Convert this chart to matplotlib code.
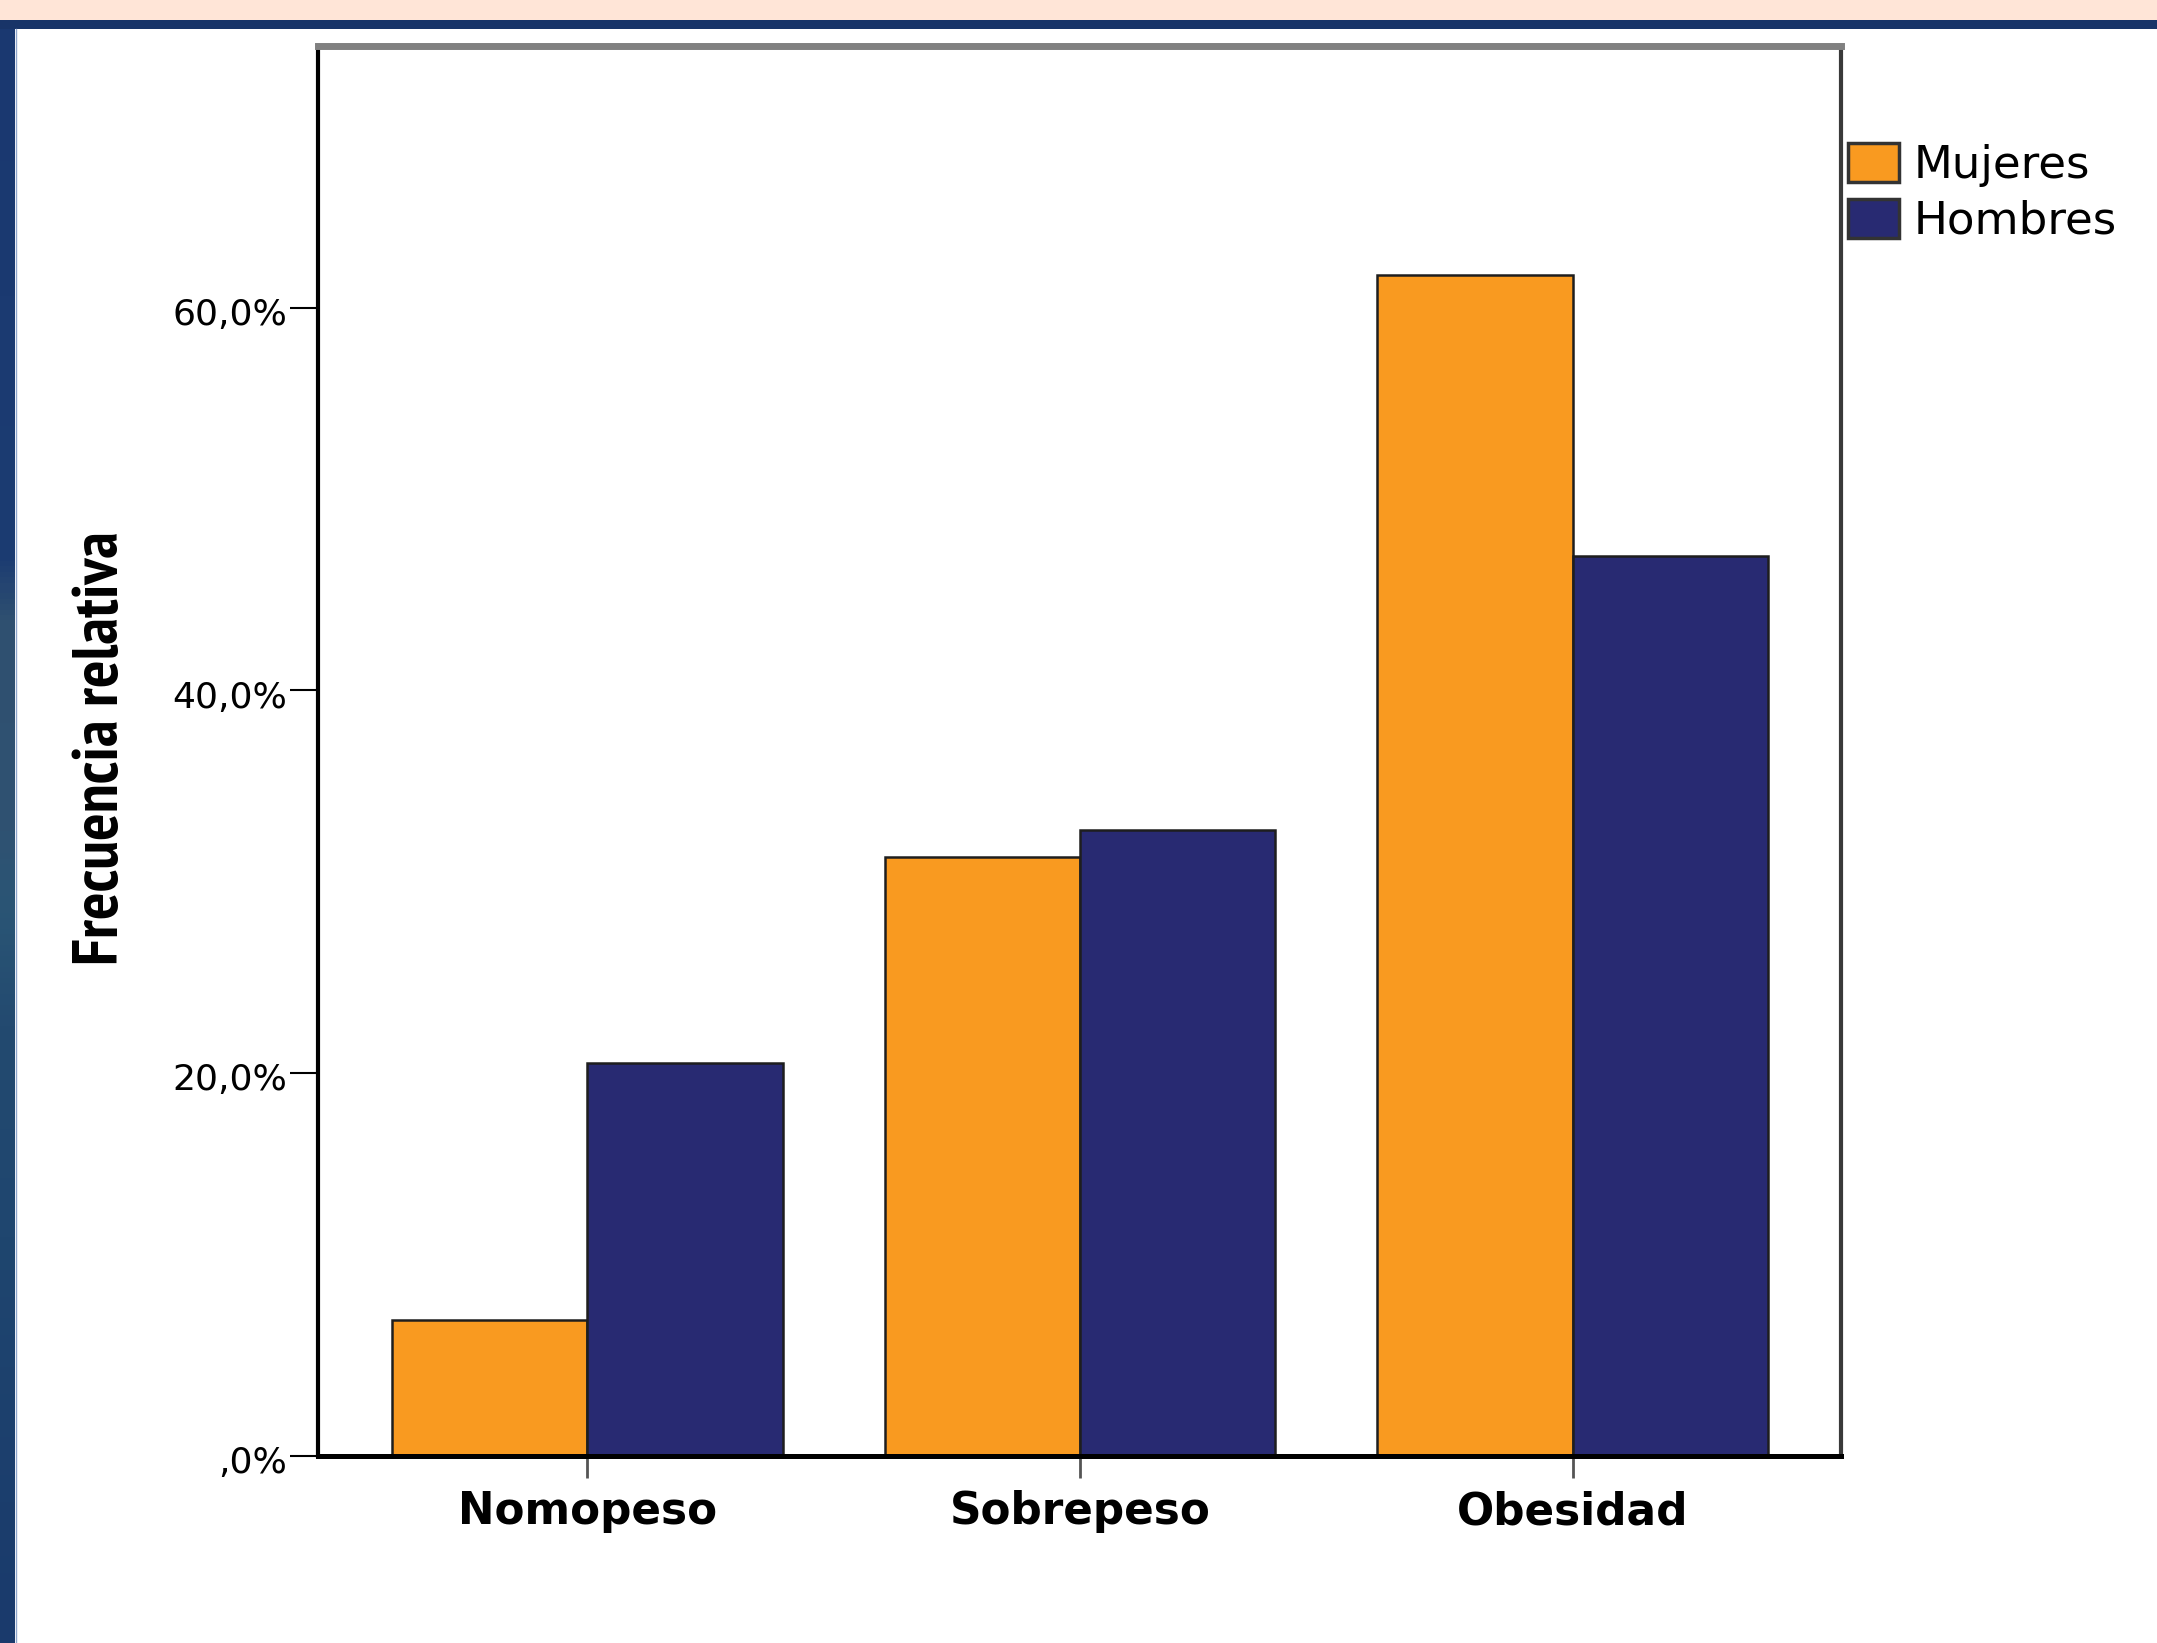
import matplotlib
matplotlib.use("Agg")
import matplotlib.pyplot as plt
import numpy as np
from matplotlib import font_manager
from matplotlib.colors import LinearSegmentedColormap
from matplotlib.patches import Rectangle
from matplotlib.ticker import FixedLocator, FuncFormatter
from matplotlib.transforms import ScaledTranslation

# datos
categorias = ["Nomopeso", "Sobrepeso", "Obesidad"]
mujeres = [7.1, 31.3, 61.7]
hombres = [20.5, 32.7, 47.0]
series = ["Mujeres", "Hombres"]
yticks = [0, 20, 40, 60]

W, H = 2157, 1643
fig = plt.figure(figsize=(W / 100, H / 100), dpi=100)
fig.patch.set_facecolor("white")

# franjas del marco de la diapositiva
fig.patches.append(Rectangle((0, 1 - 20 / H), 1, 20 / H, transform=fig.transFigure,
                             facecolor="#ffe5d7", edgecolor="none", zorder=0))
fig.patches.append(Rectangle((0, 1 - 29 / H), 1, 9 / H, transform=fig.transFigure,
                             facecolor="#183468", edgecolor="none", zorder=0))

side = fig.add_axes([0, 0, 15 / W, 1 - 20 / H])
cmap = LinearSegmentedColormap.from_list("lado", [
    (0.0, "#1a3870"), (0.33, "#1c3c72"), (0.37, "#2f5070"), (0.5, "#2f5272"),
    (0.55, "#2a5575"), (0.62, "#234a70"), (0.75, "#1f466f"), (1.0, "#1a3a6c")])
side.imshow(np.linspace(0, 1, 300).reshape(-1, 1), aspect="auto", cmap=cmap)
side.axis("off")
fig.add_artist(plt.Line2D([15.5 / W, 15.5 / W], [0, 1 - 29 / H], transform=fig.transFigure,
                          color="#8fa6cc", lw=1))

ax = fig.add_axes([318 / W, 1 - 1455.5 / H, (1841 - 318) / W, (1455.5 - 45.5) / H])

x = np.arange(len(categorias))
width = 0.3966
b1 = ax.bar(x - width / 2, mujeres, width, color="#f99a20", edgecolor="#1e1e1e",
            linewidth=1.8, label=series[0], zorder=3)
b2 = ax.bar(x + width / 2, hombres, width, color="#282a72", edgecolor="#1e1e1e",
            linewidth=1.8, label=series[1], zorder=3)

ax.set_xlim(-0.547, 2.545)
ax.set_ylim(0, 73.7)

ax.yaxis.set_major_locator(FixedLocator(yticks))
ax.yaxis.set_major_formatter(FuncFormatter(
    lambda v, p: ",0%" if v == 0 else f"{v:.1f}%".replace(".", ",")))
ax.tick_params(axis="y", direction="out", length=20, width=1.5, color="black",
               labelsize=26, pad=2)
# las etiquetas quedan un poco por debajo de su marca
bajada = ScaledTranslation(0, -4 / 100, fig.dpi_scale_trans)
for t in ax.get_yticklabels():
    t.set_verticalalignment("center_baseline")
    t.set_transform(t.get_transform() + bajada)

ax.set_xticks(x)
ax.set_xticklabels(categorias, fontsize=31.5, fontweight="bold")
ax.tick_params(axis="x", direction="out", length=16, width=2, color="#555555", pad=9)

ax.spines["top"].set_color("#808080")
ax.spines["top"].set_linewidth(5)
ax.spines["right"].set_color("#3a3a3a")
ax.spines["right"].set_linewidth(3)
ax.spines["left"].set_color("black")
ax.spines["left"].set_linewidth(3)
ax.spines["bottom"].set_color("black")
ax.spines["bottom"].set_linewidth(3.6)
for s in ax.spines.values():
    s.set_zorder(4)

# rótulo del eje y en letra estrecha si hay alguna instalada
narrow = None
for f in font_manager.fontManager.ttflist:
    nombre = (f.name + " " + f.fname).lower()
    if ("narrow" in nombre or "condensed" in nombre) and f.weight in ("bold", 700):
        narrow = f.fname
        if "narrow" in nombre:
            break
if narrow:
    ylab_font = font_manager.FontProperties(fname=narrow, size=46.5)
else:
    ylab_font = font_manager.FontProperties(family="DejaVu Sans", weight="bold", size=31)
fig.text(102 / W, 1 - 748 / H, "Frecuencia relativa", rotation=90,
         ha="center", va="center", fontproperties=ylab_font)

leg = ax.legend(loc="upper left", bbox_to_anchor=(1848 / W, 1 - 143 / H),
                bbox_transform=fig.transFigure, frameon=False, fontsize=32.5,
                handlelength=1.13, handleheight=0.96, handletextpad=0.33,
                labelspacing=0.26, borderpad=0, borderaxespad=0)
for h in leg.legend_handles:
    h.set_edgecolor("#333333")
    h.set_linewidth(2.5)

fig.savefig("out.png", dpi=100)
